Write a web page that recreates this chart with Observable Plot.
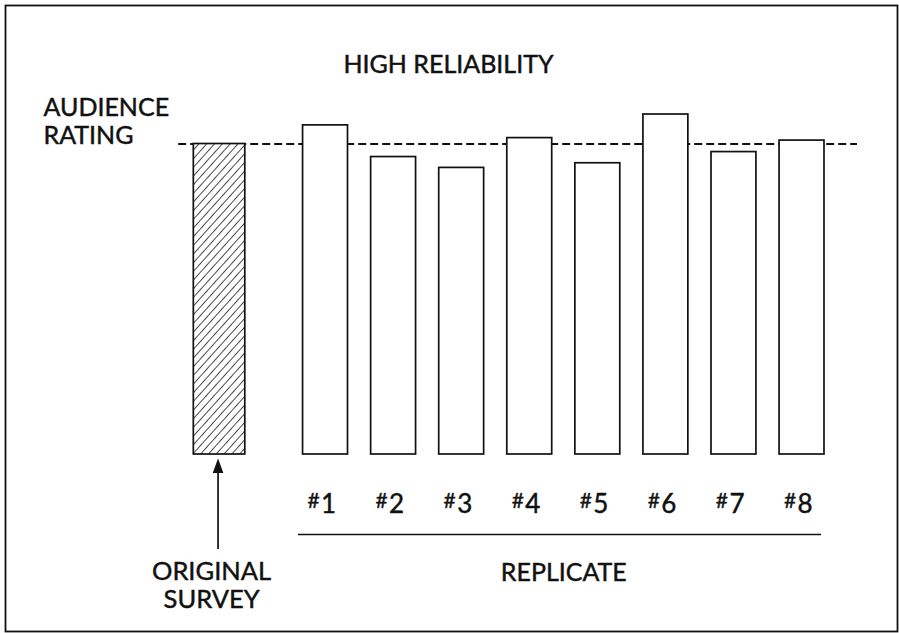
<!DOCTYPE html>
<html>
<head>
<meta charset="utf-8">
<script src="https://cdn.jsdelivr.net/npm/d3@7"></script>
<script src="https://cdn.jsdelivr.net/npm/@observablehq/plot@0.6"></script>
<style>
  html, body { margin: 0; padding: 0; background: #fff; }
  #chart svg { display: block; }
</style>
</head>
<body>
<div id="chart"></div>
<script>
// ---- Data (arbitrary rating units; original survey = 100) ----
const title = "HIGH RELIABILITY";
const yLabel = ["AUDIENCE", "RATING"];
const originalLabel = "ORIGINAL\nSURVEY";
const originalRating = 100;
const replicateLabels = ["#1", "#2", "#3", "#4", "#5", "#6", "#7", "#8"];
const replicateRatings = [106.0, 95.8, 92.3, 101.9, 93.8, 109.5, 97.4, 101.1];
const groupLabel = "REPLICATE";

// ---- Layout helpers (slot units on a linear x scale) ----
const originalSlot = -0.557;
const replicates = replicateLabels.map((label, i) => ({label, slot: i + 1, rating: replicateRatings[i]}));
const original = [{label: originalLabel, slot: originalSlot, rating: originalRating}];
const halfRep = 0.33, halfOrig = 0.378;

const W = 899, H = 633;
const FONT = "Lato, 'Open Sans', sans-serif";
const INK = "#111";
const txt = {fontFamily: FONT, fill: INK, stroke: INK, strokeWidth: 0.45};

// custom narrow filled arrowhead, apex at origin
const arrowHead = {draw(ctx) { ctx.moveTo(0, 0); ctx.lineTo(-5.3, 14.5); ctx.lineTo(5.3, 14.5); ctx.closePath(); }};

const chart = Plot.plot({
  width: W,
  height: H,
  margin: 0,
  x: {type: "linear", domain: [-3.775, 9.432], range: [0, W], axis: null},
  y: {type: "linear", domain: [0, 100], range: [454, 143.5], axis: null},
  marks: [
    Plot.frame({stroke: INK, strokeWidth: 1.8, insetLeft: 5, insetTop: 5, insetRight: 2, insetBottom: 2}),
    // reference dashed line at the original rating
    Plot.ruleY([originalRating], {x1: originalSlot - 0.6, x2: replicates.length + 0.815, stroke: INK, strokeWidth: 2, strokeDasharray: "8,4"}),
    // original survey bar (hatched)
    Plot.rectY(original, {x1: d => d.slot - halfOrig, x2: d => d.slot + halfOrig, y1: 0, y2: "rating", fill: "url(#hatch)", stroke: INK, strokeWidth: 1.7}),
    // replicate bars
    Plot.rectY(replicates, {x1: d => d.slot - halfRep, x2: d => d.slot + halfRep, y1: 0, y2: "rating", fill: "white", stroke: INK, strokeWidth: 1.7}),
    // replicate labels: smaller "#" followed by the number
    Plot.text(replicates, {x: "slot", y: -17.2, text: d => d.label.slice(0, 1), dx: -12, lineAnchor: "bottom", fontSize: 21, ...txt, strokeWidth: 0.35}),
    Plot.text(replicates, {x: "slot", y: -19, text: d => d.label.slice(1), dx: 3, lineAnchor: "bottom", fontSize: 26, ...txt}),
    // replicate grouping line
    Plot.ruleY([-25.76], {x1: 1 - 0.397, x2: replicates.length + 0.287, stroke: INK, strokeWidth: 1.7}),
    Plot.text([groupLabel], {x: (1 + replicates.length) / 2, y: -40.58, lineAnchor: "bottom", fontSize: 25, ...txt}),
    // arrow to the original survey bar
    Plot.ruleX(original, {x: "slot", y1: -30.6, y2: -4, dx: -1.5, stroke: INK, strokeWidth: 1.7}),
    Plot.dot(original, {x: "slot", y: -1.29, dx: -1.5, r: 1, symbol: arrowHead, fill: INK, stroke: "none"}),
    Plot.text(original, {x: "slot", y: -49.28, text: "label", dx: -8, lineAnchor: "bottom", lineHeight: 1.08, fontSize: 25.5, ...txt}),
    // title and y label
    Plot.text([title], {frameAnchor: "top-left", dx: 448, dy: 72, textAnchor: "middle", lineAnchor: "bottom", fontSize: 25, ...txt}),
    Plot.text([yLabel.join("\n")], {frameAnchor: "top-left", dx: 43, dy: 143, textAnchor: "start", lineAnchor: "bottom", lineHeight: 1.12, fontSize: 25, ...txt})
  ]
});

// hatch pattern definition
const svg = d3.select(chart);
const defs = svg.insert("defs", ":first-child");
const S = 5.8;
const pat = defs.append("pattern")
  .attr("id", "hatch").attr("patternUnits", "userSpaceOnUse")
  .attr("width", S).attr("height", S)
  .attr("patternTransform", "rotate(42)");
pat.append("rect").attr("width", S).attr("height", S).attr("fill", "white");
pat.append("line").attr("x1", 0).attr("y1", 0).attr("x2", 0).attr("y2", S)
  .attr("stroke", INK).attr("stroke-width", 1.5);

document.getElementById("chart").appendChild(chart);
</script>
</body>
</html>
